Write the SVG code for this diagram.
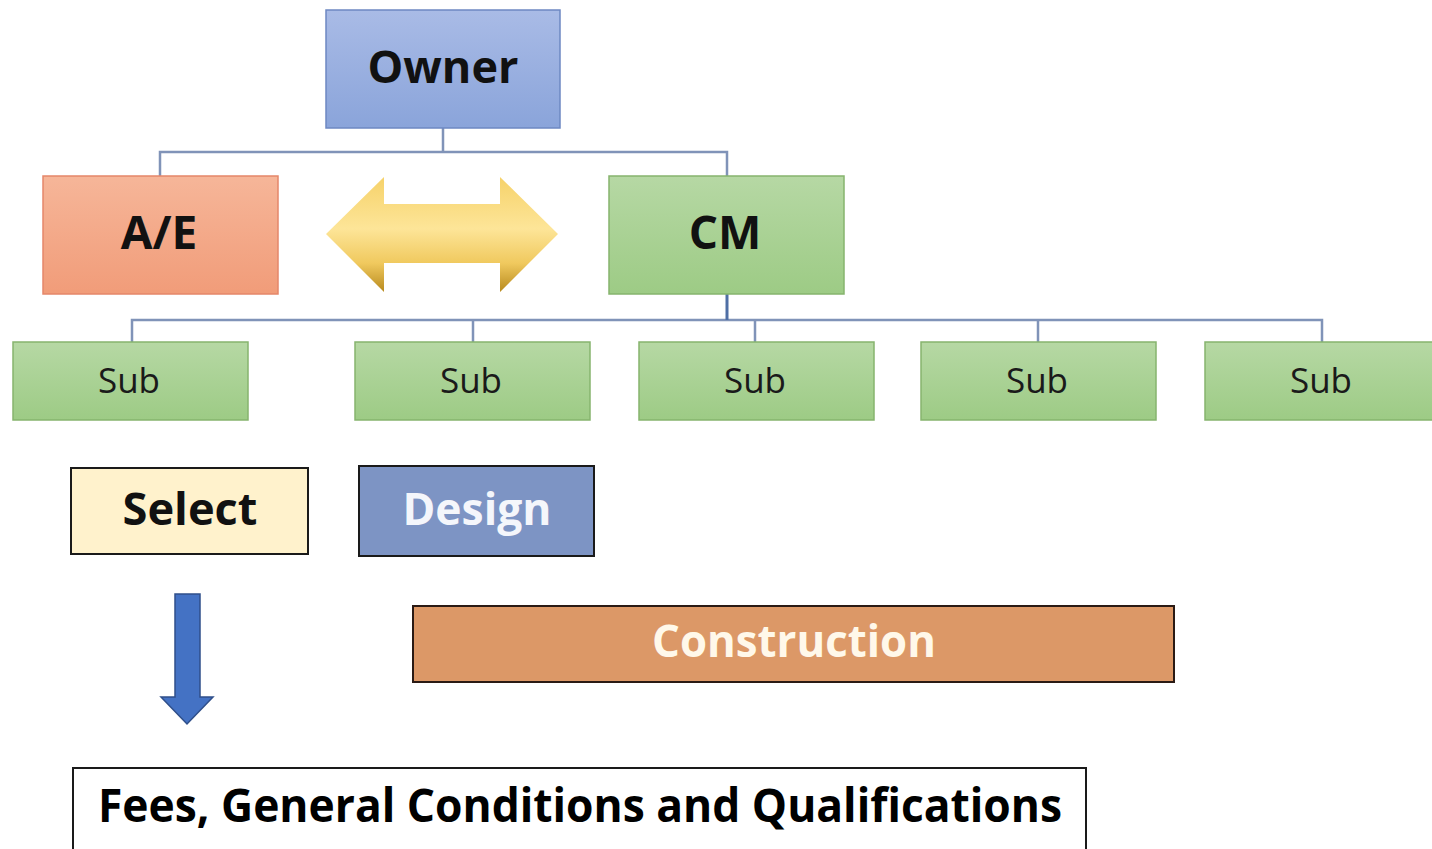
<svg xmlns="http://www.w3.org/2000/svg" width="1432" height="849" viewBox="0 0 1432 849">
<defs>
<linearGradient id="gBlue" x1="0" y1="0" x2="0" y2="1"><stop offset="0" stop-color="#a9bbe6"/><stop offset="1" stop-color="#8aa4da"/></linearGradient>
<linearGradient id="gOrange" x1="0" y1="0" x2="0" y2="1"><stop offset="0" stop-color="#f6b699"/><stop offset="1" stop-color="#f19c79"/></linearGradient>
<linearGradient id="gGreen" x1="0" y1="0" x2="0" y2="1"><stop offset="0" stop-color="#b6d8a4"/><stop offset="1" stop-color="#9dcb85"/></linearGradient>
<linearGradient id="gGold" x1="0" y1="0" x2="0" y2="1"><stop offset="0" stop-color="#f6d26a"/><stop offset="0.45" stop-color="#fde598"/><stop offset="0.75" stop-color="#f0c95e"/><stop offset="1" stop-color="#b88a1e"/></linearGradient>
<style>
.t{font-family:"Open Sans","Liberation Sans",sans-serif;text-anchor:middle}
.b{font-weight:bold}
.org{stroke-width:1.5}
.sub rect{fill:url(#gGreen);stroke:#86b46e;stroke-width:1.5}
.sub text{font-size:35px;fill:#1a1a1a}
.conn{fill:none;stroke:#8093b8;stroke-width:2.5}
</style>
</defs>
<rect width="1432" height="849" fill="#ffffff"/>
<g id="connectors">
<path class="conn" d="M443 128 V152 M160 176 V152 H727 V176"/>
<path class="conn" d="M132 342 V320 H1322 V342 M473 320 V342 M755 320 V342 M1038 320 V342"/>
<path d="M727 294 V320" fill="none" stroke="#4f6fa5" stroke-width="3"/>
</g>
<g id="owner">
<rect x="326" y="10" width="234" height="118" fill="url(#gBlue)" stroke="#6d88c2" class="org"/>
<text class="t b" x="443" y="83" font-size="45" fill="#111">Owner</text>
</g>
<g id="ae">
<rect x="43" y="176" width="235" height="118" fill="url(#gOrange)" stroke="#e5876a" class="org"/>
<text class="t b" x="159" y="249" font-size="46" fill="#111">A/E</text>
</g>
<g id="double-arrow">
<polygon points="326,234 384,177 384,204 500,204 500,177 558,234 500,292 500,263 384,263 384,292" fill="url(#gGold)"/>
</g>
<g id="cm">
<rect x="609" y="176" width="235" height="118" fill="url(#gGreen)" stroke="#86b46e" class="org"/>
<text class="t b" x="725" y="249" font-size="46" fill="#111">CM</text>
</g>
<g id="sub1" class="sub"><rect x="13" y="342" width="235" height="78"/><text class="t" x="129" y="393">Sub</text></g>
<g id="sub2" class="sub"><rect x="355" y="342" width="235" height="78"/><text class="t" x="471" y="393">Sub</text></g>
<g id="sub3" class="sub"><rect x="639" y="342" width="235" height="78"/><text class="t" x="755" y="393">Sub</text></g>
<g id="sub4" class="sub"><rect x="921" y="342" width="235" height="78"/><text class="t" x="1037" y="393">Sub</text></g>
<g id="sub5" class="sub"><rect x="1205" y="342" width="235" height="78"/><text class="t" x="1321" y="393">Sub</text></g>
<g id="select">
<rect x="71" y="468" width="237" height="86" fill="#fff2cc" stroke="#1a1a1a" stroke-width="2"/>
<text class="t b" x="190" y="525" font-size="44" fill="#111" textLength="135" lengthAdjust="spacingAndGlyphs">Select</text>
</g>
<g id="design">
<rect x="359" y="466" width="235" height="90" fill="#7d94c4" stroke="#1a1a1a" stroke-width="2"/>
<text class="t b" x="477" y="525" font-size="44" fill="#f4f6fb" textLength="149" lengthAdjust="spacingAndGlyphs">Design</text>
</g>
<g id="down-arrow">
<polygon points="175,594 200,594 200,697 213,697 187,724 161,697 175,697" fill="#4472c4" stroke="#2f4f8a" stroke-width="1.5"/>
</g>
<g id="construction">
<rect x="413" y="606" width="761" height="76" fill="#dc9867" stroke="#2a1a14" stroke-width="2"/>
<text class="t b" x="794" y="657" font-size="45" fill="#fff8ea" textLength="284" lengthAdjust="spacingAndGlyphs">Construction</text>
</g>
<g id="fees">
<rect x="73" y="768" width="1013" height="90" fill="#ffffff" stroke="#1a1a1a" stroke-width="2"/>
<text class="t b" x="580" y="822" font-size="46" fill="#000" textLength="964" lengthAdjust="spacingAndGlyphs">Fees, General Conditions and Qualifications</text>
</g>
</svg>
